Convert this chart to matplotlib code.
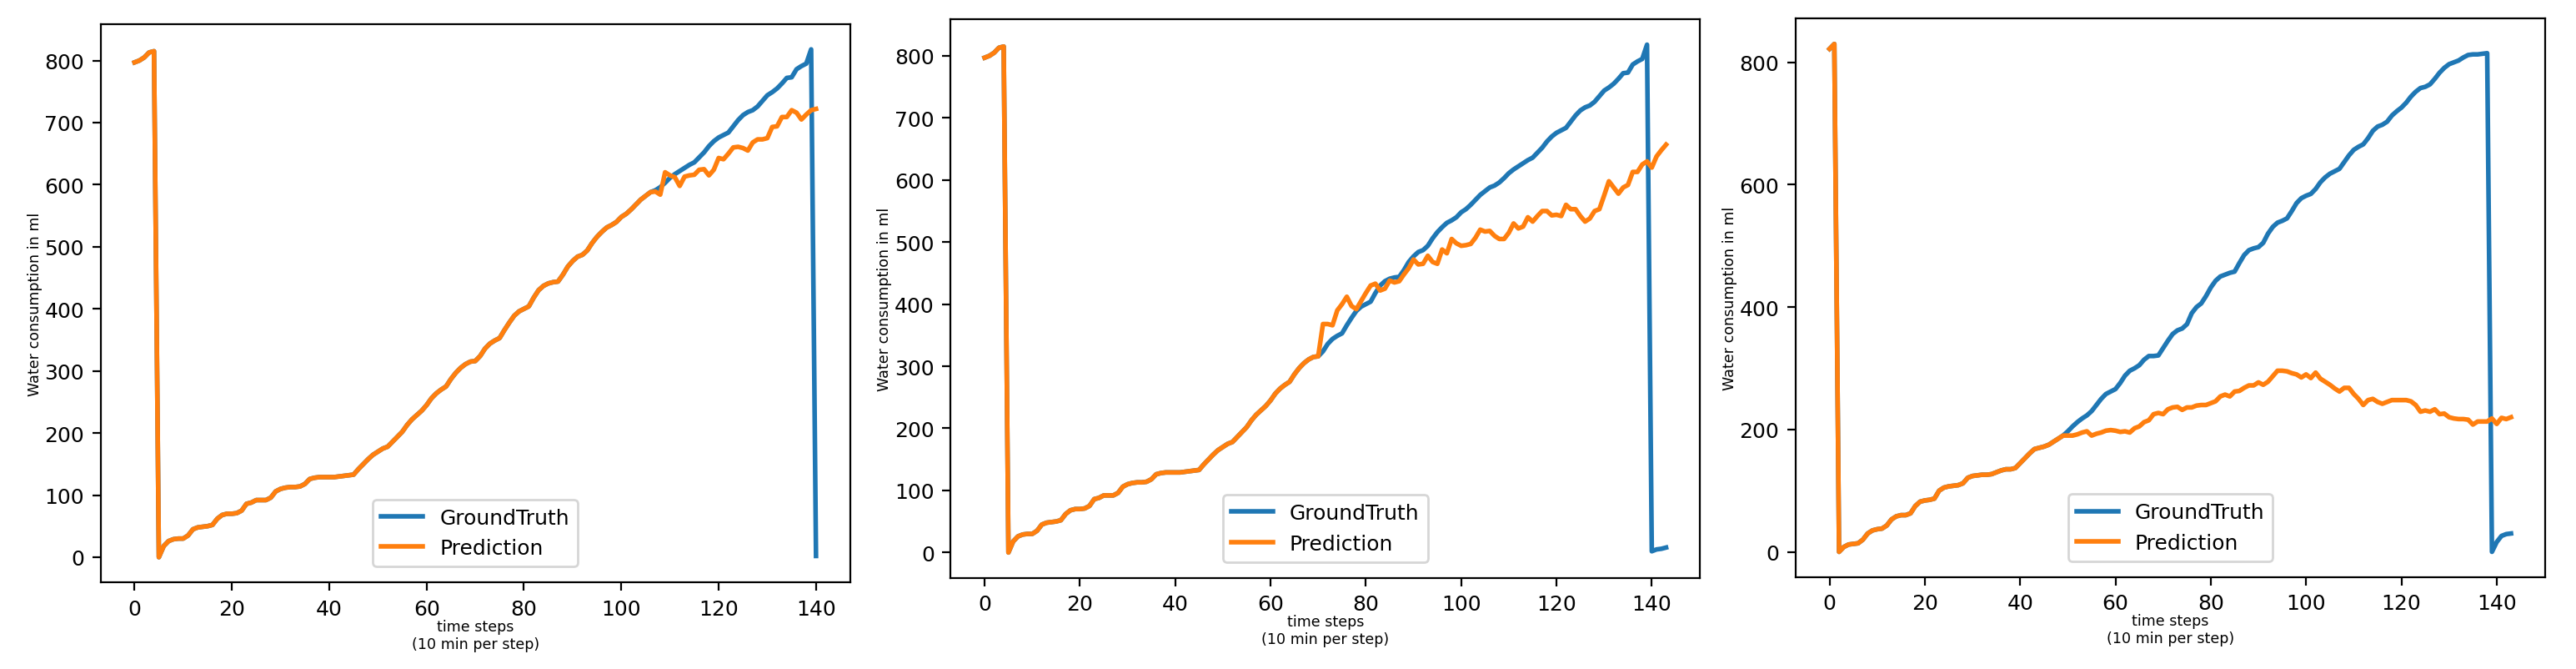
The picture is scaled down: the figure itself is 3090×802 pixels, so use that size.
import matplotlib
matplotlib.use("Agg")
import matplotlib.pyplot as plt

gt_a = [797,800,805,813,815,0,18,26,29,30,30,35,45,48,49,50,52,62,68,70,
        70,71,75,86,88,92,92,92,96,106,110,112,113,113,114,118,126,128,129,129,
        129,129,130,131,132,133,142,150,158,165,170,175,178,186,194,202,213,222,229,236,
        245,256,264,270,275,287,297,305,311,315,316,324,336,344,349,353,366,378,389,396,
        400,404,418,430,437,441,443,444,455,468,477,484,487,494,506,516,524,531,535,540,
        548,553,560,568,576,582,588,591,596,603,611,617,622,627,632,636,644,652,662,670,
        676,680,684,694,704,712,717,720,726,735,744,749,755,763,772,773,786,791,795,818]
gt1 = gt_a + [2]
pred1_tail = [589,584,620,615,612,598,613,615,616,624,625,615,624,643,641,650,660,661,659,655,
              668,673,673,675,693,694,709,709,720,716,705,713,720,722]
pred1 = gt1[:107] + pred1_tail

gt2 = gt_a + [2,5,6,8]
pred2_tail = [368,368,366,390,400,412,397,392,405,418,430,433,422,425,438,435,437,448,458,472,
              464,465,478,468,465,488,482,505,498,494,495,497,507,520,517,518,510,505,505,515,
              530,522,525,540,533,542,550,550,543,544,542,560,553,553,542,533,538,550,553,575,
              598,588,578,588,592,613,613,625,630,620,638,648,657]
pred2 = gt2[:71] + pred2_tail

gt3 = [822,830,0,8,12,13,14,20,30,35,37,38,43,53,58,60,60,63,75,82,
       84,85,87,100,105,107,108,109,112,121,124,125,126,126,127,130,133,135,135,137,
       145,153,161,168,170,172,175,180,185,190,197,205,212,218,223,230,240,250,258,262,
       266,276,288,296,300,305,314,320,320,321,333,345,356,362,365,372,390,400,406,418,
       432,443,450,453,456,458,472,485,493,496,498,505,520,531,538,541,545,557,570,578,
       582,585,593,604,612,618,622,626,637,648,657,662,666,676,688,695,698,703,713,720,
       726,734,744,752,758,760,764,773,783,791,797,800,803,808,812,813,813,814,815,0,
       16,26,29,30]
pred3_tail = [190,190,192,195,197,190,193,195,198,199,198,196,197,195,202,205,212,215,225,227,
              225,233,236,237,232,236,236,239,240,240,243,246,254,257,254,262,263,268,272,272,
              277,273,278,287,296,296,295,292,290,285,290,284,293,283,278,273,267,262,268,268,
              258,250,240,248,250,245,242,245,248,248,248,248,246,240,229,231,229,233,225,226,
              220,218,217,217,216,208,213,213,213,218,209,219,217,220]
pred3 = gt3[:50] + pred3_tail

panels = [(gt1, pred1, [0.039, 0.129, 0.291, 0.834]),
          (gt2, pred2, [0.369, 0.136, 0.291, 0.834]),
          (gt3, pred3, [0.697, 0.137, 0.291, 0.834])]

fig = plt.figure(figsize=(15.45, 4.015), dpi=200)
for gt, pred, rect in panels:
    ax = fig.add_axes(rect)
    ax.plot(range(len(gt)), gt, color="#1f77b4", lw=2.0, label="GroundTruth")
    ax.plot(range(len(pred)), pred, color="#ff7f0e", lw=2.0, label="Prediction")
    ax.set_xlabel("time steps\n(10 min per step)", fontsize=6.3, labelpad=0)
    ax.set_ylabel("Water consumption in ml", fontsize=6.3, labelpad=1)
    ax.tick_params(labelsize=9)
    ax.set_xticks([0, 20, 40, 60, 80, 100, 120, 140])
    ax.legend(loc="lower center", bbox_to_anchor=(0.5, 0.01), fontsize=9)
fig.savefig("out.png", dpi=200)
